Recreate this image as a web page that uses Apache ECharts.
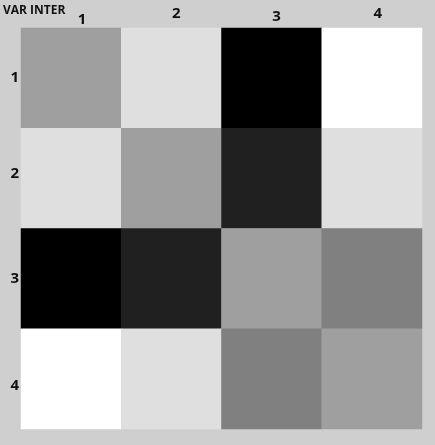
<!DOCTYPE html>
<html><head><meta charset="utf-8">
<script src="https://cdn.jsdelivr.net/npm/echarts@6/dist/echarts.min.js"></script>
<style>html,body{margin:0;padding:0;background:#cfcfcf}#c{width:435px;height:445px}</style>
</head><body><div id="c"></div>
<script>
const colLabels = ['1', '2', '3', '4'];
const rowLabels = ['1', '2', '3', '4'];
// intensity: 0 = white, 1 = black
const row1 = [0.375, 0.125, 1.0, 0.0];
const row2 = [0.125, 0.375, 0.875, 0.125];
const row3 = [1.0, 0.875, 0.375, 0.5];
const row4 = [0.0, 0.125, 0.5, 0.375];
const rows = [row1, row2, row3, row4];
const cornerTitle = 'VAR INTER';

const data = [];
rows.forEach((r, ri) => r.forEach((v, ci) => data.push([ci, ri, v])));

const font = '"Open Sans", "Liberation Sans", sans-serif';
const colRich = {
  c0: {padding: [0, 0, 0, 22], fontSize: 15, fontWeight: 'bold', color: '#111', fontFamily: font},
  c1: {padding: [0, 0, 6, 10], fontSize: 15, fontWeight: 'bold', color: '#111', fontFamily: font},
  c2: {padding: [0, 0, 3, 10], fontSize: 15, fontWeight: 'bold', color: '#111', fontFamily: font},
  c3: {padding: [0, 0, 6, 12], fontSize: 15, fontWeight: 'bold', color: '#111', fontFamily: font}
};
const rowRich = {
  r0: {padding: [0, 0, 0, 0], fontSize: 15, fontWeight: 'bold', color: '#111', fontFamily: font},
  r1: {padding: [0, 0, 10, 0], fontSize: 15, fontWeight: 'bold', color: '#111', fontFamily: font},
  r2: {padding: [0, 0, 0, 0], fontSize: 15, fontWeight: 'bold', color: '#111', fontFamily: font},
  r3: {padding: [14, 0, 0, 0], fontSize: 15, fontWeight: 'bold', color: '#111', fontFamily: font}
};

const chart = echarts.init(document.getElementById('c'), null, {renderer: 'canvas'});
chart.setOption({
  backgroundColor: '#cfcfcf',
  animation: false,
  title: {
    text: cornerTitle, left: 3, top: 5, padding: 0,
    textStyle: {fontSize: 12, fontWeight: 'bold', color: '#111', fontFamily: font}
  },
  grid: {left: 21, top: 28, right: 13, bottom: 16, containLabel: false},
  xAxis: {
    type: 'category', data: colLabels, position: 'top',
    axisLine: {show: false}, axisTick: {show: false}, splitLine: {show: false},
    axisLabel: {margin: 1, formatter: (v, i) => '{c' + i + '|' + v + '}', rich: colRich}
  },
  yAxis: {
    type: 'category', data: rowLabels, inverse: true,
    axisLine: {show: false}, axisTick: {show: false}, splitLine: {show: false},
    axisLabel: {margin: 2, formatter: (v, i) => '{r' + i + '|' + v + '}', rich: rowRich}
  },
  visualMap: {show: false, min: 0, max: 1, dimension: 2, inRange: {color: ['#ffffff', '#000000']}},
  series: [{
    type: 'heatmap', data: data,
    itemStyle: {borderWidth: 0},
    emphasis: {disabled: true}
  }]
});
</script></body></html>
